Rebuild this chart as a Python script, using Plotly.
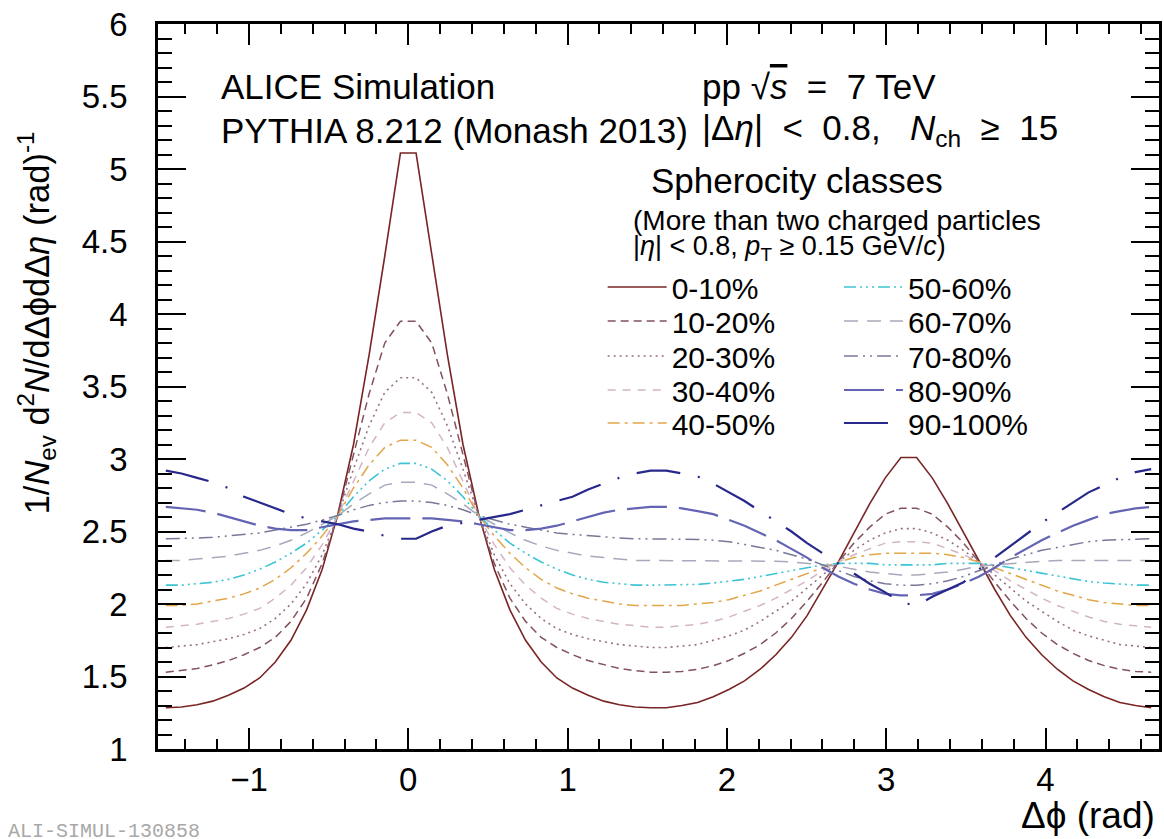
import numpy as np
import plotly.graph_objects as go

# ---------------- data ----------------
n_bins = 64
bin_centers = -np.pi / 2 + (np.arange(n_bins) + 0.5) * (2 * np.pi / n_bins)

class_labels = ["0-10%", "10-20%", "20-30%", "30-40%", "40-50%",
                "50-60%", "60-70%", "70-80%", "80-90%", "90-100%"]

s00_10 = [1.285, 1.29, 1.305, 1.33, 1.37, 1.42, 1.49, 1.60, 1.75, 1.96, 2.24, 2.62, 3.10, 3.72, 4.40, 5.11,
          5.11, 4.40, 3.72, 3.10, 2.62, 2.24, 1.96, 1.75, 1.60, 1.49, 1.42, 1.37, 1.33, 1.305, 1.29, 1.285,
          1.285, 1.30, 1.32, 1.36, 1.41, 1.47, 1.55, 1.65, 1.77, 1.92, 2.10, 2.29, 2.49, 2.69, 2.87, 3.01,
          3.01, 2.87, 2.69, 2.49, 2.29, 2.10, 1.92, 1.77, 1.65, 1.55, 1.47, 1.41, 1.36, 1.32, 1.30, 1.285]
s10_20 = [1.53, 1.54, 1.555, 1.58, 1.61, 1.65, 1.70, 1.77, 1.88, 2.04, 2.28, 2.61, 3.02, 3.45, 3.80, 3.95,
          3.95, 3.80, 3.45, 3.02, 2.61, 2.28, 2.04, 1.88, 1.77, 1.70, 1.65, 1.61, 1.58, 1.555, 1.54, 1.53,
          1.53, 1.535, 1.55, 1.575, 1.61, 1.66, 1.72, 1.80, 1.90, 2.02, 2.15, 2.29, 2.42, 2.53, 2.62, 2.66,
          2.66, 2.62, 2.53, 2.42, 2.29, 2.15, 2.02, 1.90, 1.80, 1.72, 1.66, 1.61, 1.575, 1.55, 1.535, 1.53]
s20_30 = [1.70, 1.71, 1.72, 1.74, 1.76, 1.79, 1.83, 1.90, 2.00, 2.14, 2.34, 2.61, 2.93, 3.23, 3.46, 3.56,
          3.56, 3.46, 3.23, 2.93, 2.61, 2.34, 2.14, 2.00, 1.90, 1.83, 1.79, 1.76, 1.74, 1.72, 1.71, 1.70,
          1.70, 1.71, 1.72, 1.75, 1.78, 1.82, 1.88, 1.95, 2.02, 2.11, 2.20, 2.29, 2.37, 2.44, 2.49, 2.52,
          2.52, 2.49, 2.44, 2.37, 2.29, 2.20, 2.11, 2.02, 1.95, 1.88, 1.82, 1.78, 1.75, 1.72, 1.71, 1.70]
s30_40 = [1.84, 1.85, 1.86, 1.88, 1.90, 1.93, 1.97, 2.04, 2.13, 2.25, 2.41, 2.61, 2.85, 3.08, 3.25, 3.32,
          3.32, 3.25, 3.08, 2.85, 2.61, 2.41, 2.25, 2.13, 2.04, 1.97, 1.93, 1.90, 1.88, 1.86, 1.85, 1.84,
          1.84, 1.85, 1.86, 1.88, 1.91, 1.95, 1.99, 2.04, 2.10, 2.16, 2.23, 2.29, 2.34, 2.38, 2.42, 2.43,
          2.43, 2.42, 2.38, 2.34, 2.29, 2.23, 2.16, 2.10, 2.04, 1.99, 1.95, 1.91, 1.88, 1.86, 1.85, 1.84]
s40_50 = [1.99, 1.99, 2.00, 2.02, 2.04, 2.07, 2.11, 2.17, 2.25, 2.35, 2.47, 2.61, 2.80, 2.96, 3.08, 3.13,
          3.13, 3.08, 2.96, 2.80, 2.61, 2.47, 2.35, 2.25, 2.17, 2.11, 2.07, 2.04, 2.02, 2.00, 1.99, 1.99,
          1.99, 1.99, 2.00, 2.01, 2.03, 2.06, 2.09, 2.13, 2.17, 2.21, 2.25, 2.29, 2.32, 2.34, 2.35, 2.35,
          2.35, 2.35, 2.34, 2.32, 2.29, 2.25, 2.21, 2.17, 2.13, 2.09, 2.06, 2.03, 2.01, 2.00, 1.99, 1.99]
s50_60 = [2.13, 2.13, 2.14, 2.15, 2.17, 2.20, 2.24, 2.29, 2.35, 2.42, 2.51, 2.61, 2.74, 2.85, 2.93, 2.97,
          2.97, 2.93, 2.85, 2.74, 2.61, 2.51, 2.42, 2.35, 2.29, 2.24, 2.20, 2.17, 2.15, 2.14, 2.13, 2.13,
          2.13, 2.13, 2.135, 2.145, 2.155, 2.17, 2.19, 2.21, 2.23, 2.25, 2.27, 2.28, 2.28, 2.28, 2.27, 2.27,
          2.27, 2.27, 2.28, 2.28, 2.28, 2.27, 2.25, 2.23, 2.21, 2.19, 2.17, 2.155, 2.145, 2.135, 2.13, 2.13]
s60_70 = [2.30, 2.30, 2.31, 2.32, 2.33, 2.35, 2.37, 2.40, 2.44, 2.49, 2.55, 2.61, 2.69, 2.76, 2.82, 2.84,
          2.84, 2.82, 2.76, 2.69, 2.61, 2.55, 2.49, 2.44, 2.40, 2.37, 2.35, 2.33, 2.32, 2.31, 2.30, 2.30,
          2.30, 2.30, 2.30, 2.30, 2.30, 2.30, 2.30, 2.295, 2.29, 2.28, 2.27, 2.26, 2.24, 2.22, 2.21, 2.20,
          2.20, 2.21, 2.22, 2.24, 2.26, 2.27, 2.28, 2.29, 2.295, 2.30, 2.30, 2.30, 2.30, 2.30, 2.30, 2.30]
s70_80 = [2.45, 2.45, 2.455, 2.46, 2.47, 2.48, 2.49, 2.51, 2.53, 2.55, 2.58, 2.61, 2.65, 2.68, 2.70, 2.71,
          2.71, 2.70, 2.68, 2.65, 2.61, 2.58, 2.55, 2.53, 2.51, 2.49, 2.48, 2.47, 2.46, 2.455, 2.45, 2.45,
          2.45, 2.45, 2.445, 2.44, 2.43, 2.41, 2.39, 2.37, 2.34, 2.31, 2.27, 2.23, 2.19, 2.16, 2.14, 2.13,
          2.13, 2.14, 2.16, 2.19, 2.23, 2.27, 2.31, 2.34, 2.37, 2.39, 2.41, 2.43, 2.44, 2.445, 2.45, 2.45]
s80_90 = [2.67, 2.66, 2.65, 2.63, 2.60, 2.57, 2.54, 2.52, 2.51, 2.51, 2.53, 2.55, 2.57, 2.58, 2.59, 2.59,
          2.59, 2.59, 2.58, 2.57, 2.55, 2.53, 2.51, 2.51, 2.52, 2.54, 2.57, 2.60, 2.63, 2.65, 2.66, 2.67,
          2.67, 2.66, 2.64, 2.62, 2.58, 2.54, 2.49, 2.44, 2.38, 2.32, 2.25, 2.19, 2.14, 2.10, 2.07, 2.06,
          2.06, 2.07, 2.10, 2.14, 2.19, 2.25, 2.32, 2.38, 2.44, 2.49, 2.54, 2.58, 2.62, 2.64, 2.66, 2.67]
s90_100 = [2.92, 2.90, 2.87, 2.84, 2.80, 2.74, 2.70, 2.66, 2.62, 2.59, 2.57, 2.55, 2.52, 2.50, 2.47, 2.45,
           2.45, 2.50, 2.54, 2.56, 2.58, 2.60, 2.62, 2.65, 2.68, 2.71, 2.74, 2.79, 2.83, 2.87, 2.90, 2.92,
           2.92, 2.90, 2.88, 2.83, 2.77, 2.71, 2.64, 2.57, 2.50, 2.42, 2.35, 2.28, 2.21, 2.14, 2.08, 2.01,
           1.99, 2.05, 2.10, 2.15, 2.24, 2.32, 2.40, 2.48, 2.56, 2.63, 2.70, 2.77, 2.82, 2.87, 2.91, 2.93]

series_values = [s00_10, s10_20, s20_30, s30_40, s40_50,
                 s50_60, s60_70, s70_80, s80_90, s90_100]

x_tick_values = [-1, 0, 1, 2, 3, 4]
y_tick_values = [1, 1.5, 2, 2.5, 3, 3.5, 4, 4.5, 5, 5.5, 6]

# ---------------- styles ----------------
colors = ["#7a2424", "#82525e", "#9a7080", "#d4b4c8", "#e2a548",
          "#3cc4d4", "#a8a8bc", "#787898", "#6464b4", "#28288c"]
dashes = ["solid", "8px,5px", "2px,4px", "8px,7px", "12px,5px,3px,5px",
          "12px,4px,2px,4px,2px,4px,2px,4px", "14px,9px", "14px,5px,2px,5px,2px,5px",
          "40px,12px", "44px,18px,2px,18px"]
widths = [1.6, 1.5, 1.6, 1.5, 1.5, 1.6, 1.5, 1.5, 2.2, 2.2]

FONT = "Liberation Sans, Arial, Helvetica, sans-serif"

# plot-area pixel frame (for placing text)
PL, PR, PT, PB = 158, 1162, 24, 749


def pxx(xp):
    return (xp - PL) / (PR - PL)


def pxy(yp):
    return (PB - yp) / (PB - PT)


# legend layout: two columns, five rows
legend_rows_px = [287, 321, 356, 390, 423]
legend_cols_px = [604, 841]

fig = go.Figure()
legend_layouts = {}
for i, (lab, vals) in enumerate(zip(class_labels, series_values)):
    lname = "legend" if i == 0 else f"legend{i + 1}"
    fig.add_trace(go.Scatter(
        x=bin_centers, y=vals, mode="lines", name=lab,
        line=dict(color=colors[i], dash=dashes[i], width=widths[i]),
        legend=lname, hoverinfo="skip"))
    col, row = divmod(i, 5)
    legend_layouts[lname] = dict(
        x=pxx(legend_cols_px[col]), y=pxy(legend_rows_px[row]),
        xanchor="left", yanchor="middle", bgcolor="rgba(0,0,0,0)",
        font=dict(family=FONT, size=30, color="black"), itemwidth=59,
        borderwidth=0)

axis_common = dict(showgrid=False, zeroline=False, showline=True, linecolor="black",
                   linewidth=2.5, mirror="ticks", ticks="inside", tickcolor="black",
                   tickwidth=2, tickfont=dict(family=FONT, size=33, color="black"))

fig.update_layout(
    width=1164, height=839,
    margin=dict(l=PL, r=1164 - PR, t=PT, b=839 - PB),
    paper_bgcolor="white", plot_bgcolor="white",
    font=dict(family=FONT, color="black"),
    xaxis=dict(range=[-np.pi / 2, 3 * np.pi / 2], tickmode="array", tickvals=x_tick_values,
               ticklen=21, minor=dict(dtick=0.2, tick0=0, ticklen=10, ticks="inside",
                                      tickcolor="black", tickwidth=1.5),
               ticklabelstandoff=0, **axis_common),
    yaxis=dict(range=[1, 6], tickmode="array", tickvals=y_tick_values,
               ticklen=28, minor=dict(dtick=0.1, tick0=0, ticklen=14, ticks="inside",
                                      tickcolor="black", tickwidth=1.5),
               ticklabelstandoff=21, **axis_common),
    showlegend=True,
    **legend_layouts,
)

ann = []


def add_text(text, xp, yp, size, xanchor="left", yanchor="middle", color="black",
             family=FONT, angle=0):
    ann.append(dict(text=text, x=pxx(xp), y=pxy(yp), xref="paper", yref="paper",
                    xanchor=xanchor, yanchor=yanchor, showarrow=False, textangle=angle,
                    font=dict(family=family, size=size, color=color)))


NB = "\u00a0"
add_text("ALICE Simulation", 219, 86, 35)
add_text("PYTHIA 8.212 (Monash 2013)", 219, 130, 35)
add_text("pp √<span style='text-decoration:overline'><i>s</i></span> " + NB + "=" + NB + " 7 TeV",
         702, 86, 35)
add_text("|Δ<i>η</i>| " + NB + "<" + NB + " 0.8," + NB + NB + " <i>N</i><sub>ch</sub> "
         + NB + "≥" + NB + " 15", 702, 130, 35)
add_text("Spherocity classes", 650, 181, 35)
add_text("(More than two charged particles", 632, 220, 28)
add_text("|<i>η</i>| < 0.8, <i>p</i><sub>T</sub> ≥ 0.15 GeV/<i>c</i>)", 632, 248, 27)
add_text("Δϕ (rad)", 1160, 815, 37, xanchor="right")
add_text("ALI-SIMUL-130858", 6, 845, 20, yanchor="bottom", color="#a8a8a8",
         family="Liberation Mono, Courier New, monospace")
add_text("1/<i>N</i><sub>ev</sub> d<sup>2</sup><i>N</i>/dΔϕdΔ<i>η</i> (rad)<sup>-1</sup>",
         36, 323, 34.5, xanchor="center", angle=-90)

fig.update_layout(annotations=ann)

fig.write_html("out.html")
